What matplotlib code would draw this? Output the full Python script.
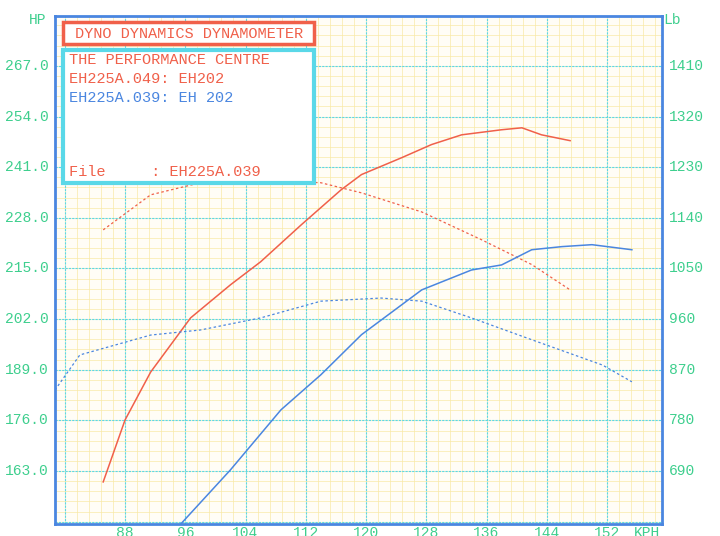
import numpy as np
import matplotlib.pyplot as plt
from matplotlib.patches import Rectangle

# Curvas (KPH, HP en escala izquierda)
rp_x = [85.1, 88.0, 91.4, 96.7, 102.0, 106.0, 111.4, 116.7, 119.4, 124.7, 128.7, 132.7, 138.0, 140.7, 143.3, 147.1]
rp_y = [160.2, 176.1, 188.4, 202.3, 210.8, 216.7, 226.2, 235.2, 239.1, 243.4, 246.8, 249.3, 250.6, 251.1, 249.3, 247.8]
rt_x = [85.1, 91.4, 98.0, 104.7, 114.0, 119.4, 127.4, 135.3, 142.0, 147.1]
rt_y = [224.9, 233.9, 237.0, 237.8, 237.0, 234.4, 229.5, 222.4, 216.0, 209.5]
bp_x = [95.4, 102.0, 108.7, 114.0, 119.4, 127.4, 134.0, 138.0, 142.0, 146.0, 150.0, 155.3]
bp_y = [149.4, 163.3, 178.7, 187.7, 198.0, 209.5, 214.6, 215.9, 219.8, 220.6, 221.1, 219.8]
bt_x = [78.7, 82.0, 91.4, 98.0, 106.0, 114.0, 122.0, 127.4, 134.0, 142.0, 151.4, 155.3]
bt_y = [183.8, 192.8, 197.9, 199.2, 202.3, 206.6, 207.4, 206.6, 202.3, 196.7, 190.2, 185.9]

hp_ticks = [163, 176, 189, 202, 215, 228, 241, 254, 267]
lb_ticks = [690, 780, 870, 960, 1050, 1140, 1230, 1320, 1410]
kph_ticks = [88, 96, 104, 112, 120, 128, 136, 144, 152]

RED = '#f0604a'
BLUE = '#4a86e0'
GREEN = '#3ecf8e'
CYAN = '#5ad8e8'
mono = 'Liberation Mono'

fig = plt.figure(figsize=(7.2, 5.36), dpi=100)
fig.patch.set_facecolor('white')
ax = fig.add_axes([55/720, 12/536, 607/720, 508/536])
ax.set_facecolor('#fffdf6')
xmin, xmax = 78.7, 159.3
ymin, ymax = 149.4, 279.8
ax.set_xlim(xmin, xmax)
ax.set_ylim(ymin, ymax)

# rejilla menor amarilla y mayor cian
for x in np.arange(80, xmax, 1.6):
    ax.axvline(x, color='#f8e9a8', lw=0.5, zorder=0)
for y in np.arange(150.0, ymax, 2.6):
    ax.axhline(y, color='#f8e9a8', lw=0.5, zorder=0)
for x in kph_ticks + [80]:
    ax.axvline(x, color=CYAN, lw=0.8, ls=(0, (2, 1)), zorder=1)
for y in hp_ticks + [150, 280]:
    ax.axhline(y, color=CYAN, lw=0.8, ls=(0, (2, 1)), zorder=1)

ax.plot(rp_x, rp_y, color=RED, lw=1.1, zorder=3)
ax.plot(rt_x, rt_y, color=RED, lw=0.9, ls=(0, (2, 2)), zorder=3)
ax.plot(bp_x, bp_y, color=BLUE, lw=1.1, zorder=3)
ax.plot(bt_x, bt_y, color=BLUE, lw=0.9, ls=(0, (2, 2)), zorder=3)

for s in ax.spines.values():
    s.set_color(BLUE)
    s.set_linewidth(2)
ax.set_xticks([])
ax.set_yticks([])

tk = dict(color=GREEN, fontsize=10.5, family=mono)
for v in hp_ticks:
    ax.text(xmin - 0.8, v, f'{v:.1f}', ha='right', va='center', **tk)
lb_hp = [163 + (l - 690) * 13 / 90 for l in lb_ticks]
for v, l in zip(lb_hp, lb_ticks):
    ax.text(xmax + 0.9, v, str(l), ha='left', va='center', **tk)
for k in kph_ticks:
    ax.text(k, ymin - 0.4, str(k), ha='center', va='top', **tk)
ax.text(xmax - 0.3, ymin - 0.4, 'KPH', ha='right', va='top', **tk)
fig.text(38/720, 1 - 20/536, 'HP', ha='center', va='center', **tk)
fig.text(672/720, 1 - 20/536, 'Lb', ha='center', va='center', **tk)

# recuadros de titulo
fig.add_artist(Rectangle((63/720, 1 - 44/536), 251/720, 22/536, transform=fig.transFigure,
                         fill=True, fc='white', ec=RED, lw=2.5, zorder=5))
fig.add_artist(Rectangle((63/720, 1 - 183/536), 251/720, 133/536, transform=fig.transFigure,
                         fill=True, fc='white', ec=CYAN, lw=3, zorder=5))
txt = dict(fontsize=11, family=mono, ha='left', va='center', zorder=6)
fig.text(75/720, 1 - 34/536, 'DYNO DYNAMICS DYNAMOMETER', color=RED, **txt)
fig.text(69/720, 1 - 60/536, 'THE PERFORMANCE CENTRE', color=RED, **txt)
fig.text(69/720, 1 - 79/536, 'EH225A.049: EH202', color=RED, **txt)
fig.text(69/720, 1 - 98/536, 'EH225A.039: EH 202', color=BLUE, **txt)
fig.text(69/720, 1 - 172/536, 'File     : EH225A.039', color=RED, **txt)

fig.savefig('out.png', dpi=100)
